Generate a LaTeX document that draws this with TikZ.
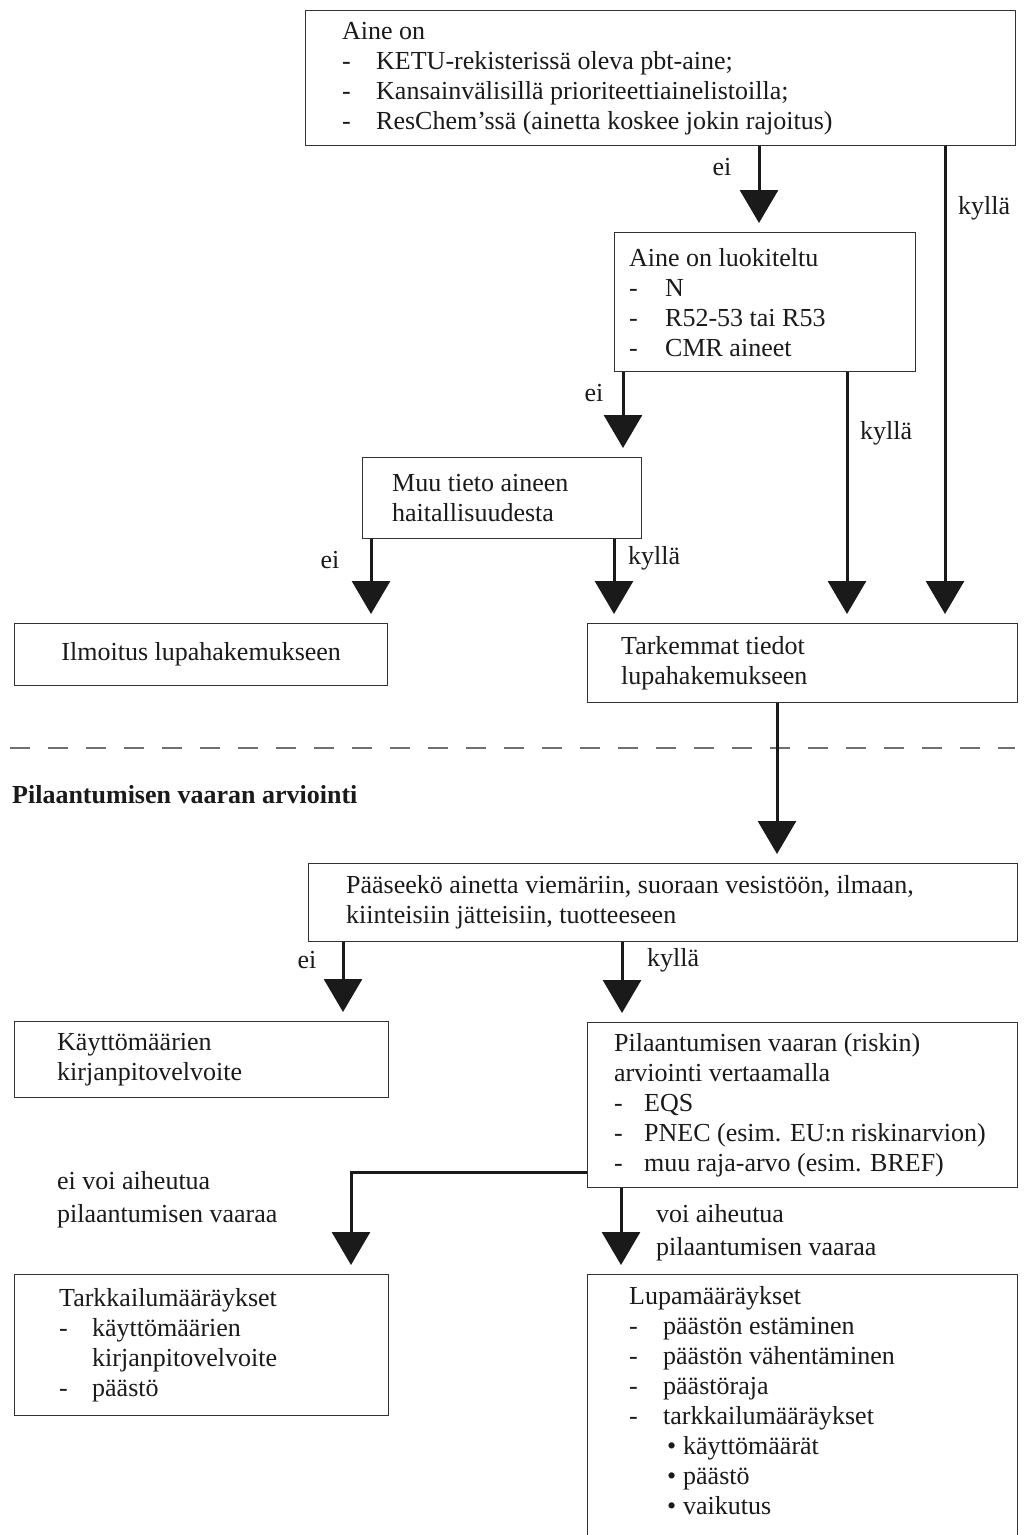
\documentclass[tikz,border=0pt]{standalone}
\usepackage{fontspec}
\setmainfont{Liberation Serif}
\usetikzlibrary{arrows.meta}

\definecolor{ink}{HTML}{1A1A1A}
\definecolor{boxgray}{HTML}{333333}
\definecolor{sepgray}{HTML}{707070}

% a dashed list entry: hyphen, then the text after a fixed indent
\newcommand\dashline[2]{\makebox[#1][l]{-}#2}
% a bulleted sub-entry
\newcommand\bulletline[1]{\makebox[54pt][l]{\hspace*{38pt}\textbullet}#1}

\begin{document}
\begin{tikzpicture}[x=1pt,y=-1pt,
  box/.style={draw=boxgray, line width=1.4pt, anchor=north west, inner sep=0pt},
  txt/.style={anchor=west, align=left, inner sep=0pt, text=ink,
              font=\fontsize{26}{30}\selectfont},
  lbl/.style={inner sep=0pt, text=ink, font=\fontsize{26}{30}\selectfont},
  flow/.style={draw=ink, line width=3pt, -{Triangle[width=38pt,length=33pt]},
               shorten >=9pt},
  sepline/.style={draw=sepgray, line width=1.6pt, dash pattern=on 20pt off 18pt}]

\useasboundingbox (0,0) rectangle (1025,1535);
\fill[white] (0,0) rectangle (1025,1535);
\clip (0,0) rectangle (1025,1535);

% ---------- boxes ----------
\node[box, minimum width=710pt, minimum height=135pt] (top)  at (305,10)   {};
\node[box, minimum width=301pt, minimum height=139pt] (cls)  at (614,232)  {};
\node[box, minimum width=279pt, minimum height=81pt]  (muu)  at (362,457)  {};
\node[box, minimum width=373pt, minimum height=62pt]  (ilm)  at (14,623)   {};
\node[box, minimum width=430pt, minimum height=79pt]  (tark) at (587,623)  {};
\node[box, minimum width=709pt, minimum height=78pt]  (paas) at (308,863)  {};
\node[box, minimum width=374pt, minimum height=76pt]  (kayt) at (14,1021)  {};
\node[box, minimum width=430pt, minimum height=165pt] (arvi) at (587,1022) {};
\node[box, minimum width=374pt, minimum height=141pt] (tkl)  at (14,1274)  {};
\node[box, minimum width=430pt, minimum height=300pt] (lupa) at (587,1274) {};

% ---------- box texts ----------
\node[txt] (topT) at ([xshift=37pt]top.west) {Aine on\\
  \dashline{34pt}{KETU-rekisterissä oleva pbt-aine;}\\
  \dashline{34pt}{Kansainvälisillä prioriteettiainelistoilla;}\\
  \dashline{34pt}{ResChem’ssä (ainetta koskee jokin rajoitus)}};
\node[txt] (clsT) at ([xshift=15pt]cls.west) {Aine on luokiteltu\\
  \dashline{36pt}{N}\\
  \dashline{36pt}{R52-53 tai R53}\\
  \dashline{36pt}{CMR aineet}};
\node[txt] (muuT) at ([xshift=30pt]muu.west) {Muu tieto aineen\\haitallisuudesta};
\node[txt, anchor=center] (ilmT) at (ilm.center) {Ilmoitus lupahakemukseen};
\node[txt] (tarkT) at ([xshift=34pt]tark.west) {Tarkemmat tiedot\\lupahakemukseen};
\node[txt] (paasT) at ([xshift=38pt]paas.west) {Pääseekö ainetta viemäriin, suoraan vesistöön, ilmaan,\\
  kiinteisiin jätteisiin, tuotteeseen};
\node[txt] (kaytT) at ([xshift=43pt]kayt.west) {Käyttömäärien\\kirjanpitovelvoite};
\node[txt] (arviT) at ([xshift=27pt]arvi.west) {Pilaantumisen vaaran (riskin)\\
  arviointi vertaamalla\\
  \dashline{30pt}{EQS}\\
  \dashline{30pt}{PNEC (esim. EU:n riskinarvion)}\\
  \dashline{30pt}{muu raja-arvo (esim. BREF)}};
\node[txt] (tklT) at ([xshift=45pt]tkl.west) {Tarkkailumääräykset\\
  \dashline{33pt}{käyttömäärien}\\
  \hspace*{33pt}kirjanpitovelvoite\\
  \dashline{33pt}{päästö}};
\node[txt, anchor=north west] (lupaT) at ([xshift=42pt,yshift=-12pt]lupa.north west) {Lupamääräykset\\
  \dashline{34pt}{päästön estäminen}\\
  \dashline{34pt}{päästön vähentäminen}\\
  \dashline{34pt}{päästöraja}\\
  \dashline{34pt}{tarkkailumääräykset}\\
  \bulletline{käyttömäärät}\\
  \bulletline{päästö}\\
  \bulletline{vaikutus}};

% ---------- section divider ----------
\draw[sepline] (10,748) -- (1015,748);
\node[lbl, anchor=west, font=\fontsize{26}{30}\selectfont\bfseries] (head) at (12,795)
  {Pilaantumisen vaaran arviointi};

% ---------- connectors ----------
\coordinate (s1) at ([xshift=454pt]top.south west);
\coordinate (s2) at ([xshift=640pt]top.south west);
\coordinate (s3) at ([xshift=9pt]cls.south west);
\coordinate (s4) at ([xshift=233pt]cls.south west);
\coordinate (s5) at ([xshift=9pt]muu.south west);
\coordinate (s6) at ([xshift=252pt]muu.south west);
\coordinate (s7) at ([xshift=190pt]tark.south west);
\coordinate (s8) at ([xshift=35pt]paas.south west);
\coordinate (s9) at ([xshift=314pt]paas.south west);
\coordinate (s10) at ([yshift=-150pt]arvi.north west);
\coordinate (t10) at ([xshift=337pt]tkl.north west);
\coordinate (s11) at ([xshift=34pt]arvi.south west);

\draw[flow] (s1) -- (s1 |- cls.north);
\draw[flow] (s2) -- (s2 |- tark.north);
\draw[flow] (s3) -- (s3 |- muu.north);
\draw[flow] (s4) -- (s4 |- tark.north);
\draw[flow] (s5) -- (s5 |- ilm.north);
\draw[flow] (s6) -- (s6 |- tark.north);
\draw[flow] (s7) -- (s7 |- paas.north);
\draw[flow] (s8) -- (s8 |- kayt.north);
\draw[flow] (s9) -- (s9 |- arvi.north);
\draw[flow] (s10) -| (t10);
\draw[flow] (s11) -- (s11 |- lupa.north);

% ---------- connector labels ----------
\node[lbl] (l1) at (722,167) {ei};
\node[lbl, anchor=west] (l2) at (958,208) {kyllä};
\node[lbl] (l3) at (594,393) {ei};
\node[lbl, anchor=west] (l4) at (860,433) {kyllä};
\node[lbl] (l5) at (330,560) {ei};
\node[lbl, anchor=west] (l6) at (628,558) {kyllä};
\node[lbl] (l7) at (307,960) {ei};
\node[lbl, anchor=west] (l8) at (647,960) {kyllä};
\node[lbl, anchor=west, align=left, font=\fontsize{26}{33}\selectfont] (l9) at (57,1200)
  {ei voi aiheutua\\pilaantumisen vaaraa};
\node[lbl, anchor=west, align=left, font=\fontsize{26}{33}\selectfont] (l10) at (656,1233)
  {voi aiheutua\\pilaantumisen vaaraa};
\end{tikzpicture}
\end{document}
